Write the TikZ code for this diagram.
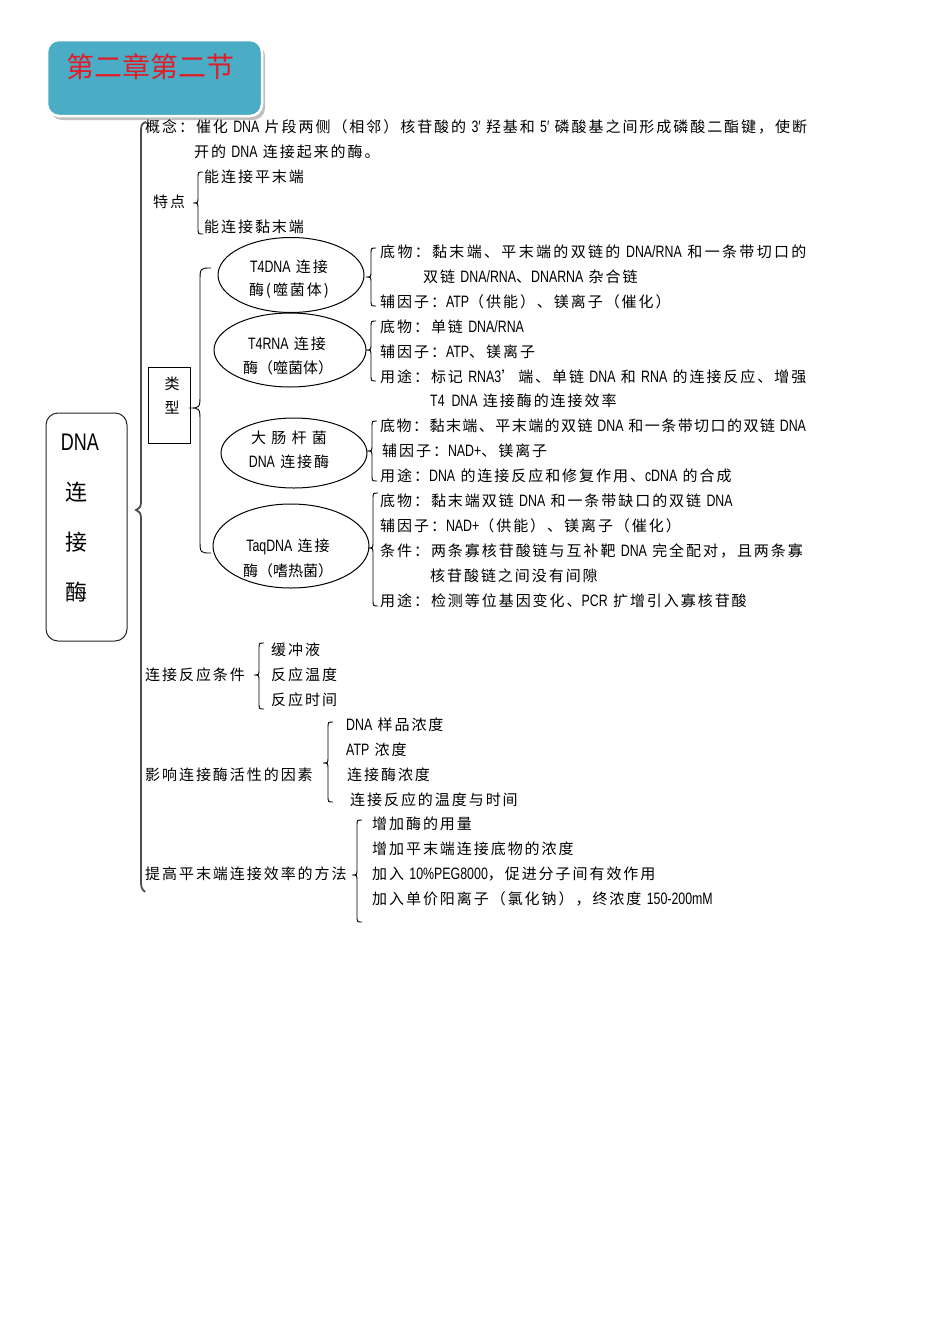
\documentclass[tikz,border=0pt]{standalone}
\usepackage{fontspec}
\usetikzlibrary{shapes.geometric}
\newfontfamily\cjk[LetterSpace=13]{Noto Sans CJK SC}
\newfontfamily\cjkw[LetterSpace=15.5]{Noto Sans CJK SC}
\newfontfamily\cjkn[LetterSpace=9.7]{Noto Sans CJK SC}
\newfontfamily\cjkplain{Noto Sans CJK SC}
\newfontfamily\latf[FakeStretch=0.75]{Liberation Sans}
\newcommand{\lat}[1]{{\latf\fontsize{16.5}{20}\selectfont #1}}
\definecolor{titlebg}{RGB}{75,172,198}
\definecolor{titlered}{RGB}{222,30,40}
\newcommand{\mybrace}[6]{\draw[brc] (#1+#5,#2) .. controls (#1,#2) .. (#1,#2+#6) -- (#1,#3-#6) .. controls (#1,#3) .. (#1-#5,#3) .. controls (#1,#3) .. (#1,#3+#6) -- (#1,#4-#6) .. controls (#1,#4) .. (#1+#5,#4);}
\begin{document}
\begin{tikzpicture}[x=1pt,y=-1pt,
  txt/.style={anchor=west,inner sep=0pt,font=\cjk\fontsize{15}{18}\selectfont},
  ctr/.style={anchor=center,inner sep=0pt,font=\cjk\fontsize{15}{18}\selectfont},
  ctrp/.style={anchor=center,inner sep=0pt,font=\cjkplain\fontsize{15}{18}\selectfont},
  brc/.style={line width=0.9pt,black},
  ell/.style={draw,ellipse,line width=1pt,inner sep=0pt},
  mainline/.style={line width=1.8pt,black!70}]
\fill[white] (0,0) rectangle (950,1344);
\useasboundingbox (0,0) rectangle (950,1344);
% title
\fill[black!25,rounded corners=12pt] (50,44) rectangle (265,120);
\filldraw[fill=titlebg,draw=white,line width=2.5pt,rounded corners=12pt] (47,40) rectangle (262,116);
\node[inner sep=0pt,font=\cjkplain\fontsize{28}{30}\selectfont,text=titlered] (title) at (150,67) {第二章第二节};
% DNA box
\node[draw,rounded corners=12pt,minimum width=81pt,minimum height=228pt,line width=1pt,black!85] (dnabox) at (86.5,527) {};
\node[inner sep=0pt,font=\latf\fontsize{24}{26}\selectfont] (dna) at (80,442) {DNA};
\node[inner sep=0pt,font=\cjkplain\fontsize{22}{24}\selectfont] (lian) at (76,492) {连};
\node[inner sep=0pt,font=\cjkplain\fontsize{22}{24}\selectfont] (jie) at (76,542) {接};
\node[inner sep=0pt,font=\cjkplain\fontsize{22}{24}\selectfont] (mei) at (76,592) {酶};
% main line
\draw[mainline] (146,122) .. controls (141,124) .. (141,138) -- (141,498) .. controls (141,507) .. (136,510) .. controls (141,513) .. (141,522) -- (141,876) .. controls (141,888) .. (145,892);
% concept
\node[txt] (c1) at (145,127) {概念：催化 \lat{DNA} 片段两侧（相邻）核苷酸的 \lat{3′} 羟基和 \lat{5′} 磷酸基之间形成磷酸二酯键，使断};
\node[txt] (c2) at (194,152) {开的 \lat{DNA} 连接起来的酶。};
% features
\node[txt] (td) at (153,202) {特点};
\mybrace{198}{172}{203}{234}{5}{6}
\node[txt] (td1) at (204,177) {能连接平末端};
\node[txt] (td2) at (204,227) {能连接黏末端};
% types
\node[draw,line width=0.8pt,minimum width=42pt,minimum height=76pt,inner sep=0pt] (lx) at (169,405) {};
\node[ctr] (lx1) at (172,384) {类};
\node[ctr] (lx2) at (172,408) {型};
\mybrace{200}{268}{408}{553}{11}{14}
% ellipses
\node[ell,minimum width=146pt,minimum height=75pt] (e1) at (291,275) {};
\node[ctr] (e1a) at (289,267) {\lat{T4DNA} 连接};
\node[ctr] (e1b) at (289,291) {酶(噬菌体)};
\node[ell,minimum width=152pt,minimum height=74pt] (e2) at (290,350) {};
\node[ctr] (e2a) at (287,344) {\lat{T4RNA} 连接};
\node[ctrp] (e2b) at (288,368) {酶（噬菌体）};
\node[ell,minimum width=146pt,minimum height=70pt] (e3) at (294,453) {};
\node[ctr] (e3a) at (289,438) {大 肠 杆 菌};
\node[ctr] (e3b) at (289,462) {\lat{DNA} 连接酶};
\node[ell,minimum width=156pt,minimum height=84pt] (e4) at (291,546) {};
\node[ctr] (e4a) at (288,547) {\lat{TaqDNA} 连接};
\node[ctrp] (e4b) at (288,571) {酶（嗜热菌）};
% right braces
\mybrace{371}{248}{277}{306}{5}{6}
\mybrace{371}{321}{350}{381}{5}{6}
\mybrace{372}{421}{451}{481}{5}{6}
\mybrace{373}{493}{548}{606}{5}{6}
% right texts
\node[txt,font=\cjkw\fontsize{15}{18}\selectfont] (r1) at (380,252) {底物：黏末端、平末端的双链的 \lat{DNA/RNA} 和一条带切口的};
\node[txt] (r2) at (423,277) {双链 \lat{DNA/RNA}、\lat{DNARNA} 杂合链};
\node[txt] (r3) at (380,302) {辅因子：\lat{ATP}（供能）、镁离子（催化）};
\node[txt] (r4) at (380,327) {底物：单链 \lat{DNA/RNA}};
\node[txt] (r5) at (380,352) {辅因子：\lat{ATP}、镁离子};
\node[txt] (r6) at (380,377) {用途：标记 \lat{RNA3}’端、单链 \lat{DNA} 和 \lat{RNA} 的连接反应、增强};
\node[txt] (r7) at (430,401) {\lat{T4\ \ DNA} 连接酶的连接效率};
\node[txt,font=\cjkn\fontsize{15}{18}\selectfont] (r8) at (380,426) {底物：黏末端、平末端的双链 \lat{DNA} 和一条带切口的双链 \lat{DNA}};
\node[txt] (r9) at (382,451) {辅因子：\lat{NAD+}、镁离子};
\node[txt] (r10) at (380,476) {用途：\lat{DNA} 的连接反应和修复作用、\lat{cDNA} 的合成};
\node[txt] (r11) at (380,501) {底物：黏末端双链 \lat{DNA} 和一条带缺口的双链 \lat{DNA}};
\node[txt] (r12) at (380,526) {辅因子：\lat{NAD+}（供能）、镁离子（催化）};
\node[txt] (r13) at (380,551) {条件：两条寡核苷酸链与互补靶 \lat{DNA} 完全配对，且两条寡};
\node[txt] (r14) at (430,576) {核苷酸链之间没有间隙};
\node[txt] (r15) at (380,601) {用途：检测等位基因变化、\lat{PCR} 扩增引入寡核苷酸};
% reaction conditions
\node[txt] (k) at (145,675) {连接反应条件};
\mybrace{259}{643}{675}{709}{5}{6}
\node[txt] (k1) at (271,650) {缓冲液};
\node[txt] (k2) at (271,675) {反应温度};
\node[txt] (k3) at (271,700) {反应时间};
% factors
\node[txt] (f) at (145,775) {影响连接酶活性的因素};
\mybrace{328}{722}{763}{802}{5}{6}
\node[txt] (f1) at (346,725) {\lat{DNA} 样品浓度};
\node[txt] (f2) at (346,750) {\lat{ATP} 浓度};
\node[txt] (f3) at (347,775) {连接酶浓度};
\node[txt] (f4) at (350,800) {连接反应的温度与时间};
% methods
\node[txt] (m) at (145,874) {提高平末端连接效率的方法};
\mybrace{357}{820}{875}{922}{5}{6}
\node[txt] (m1) at (372,824) {增加酶的用量};
\node[txt] (m2) at (372,849) {增加平末端连接底物的浓度};
\node[txt] (m3) at (372,874) {加入 \lat{10\%PEG8000}，促进分子间有效作用};
\node[txt] (m4) at (372,899) {加入单价阳离子（氯化钠），终浓度 \lat{150-200mM}};
\end{tikzpicture}
\end{document}
